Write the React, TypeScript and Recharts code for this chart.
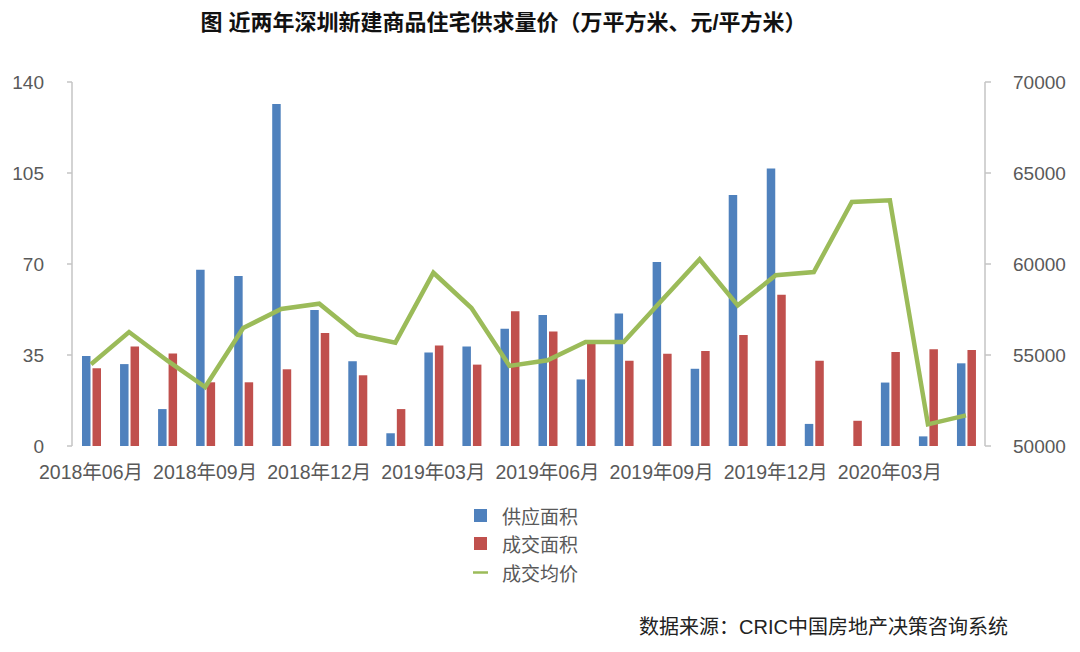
import React from 'react';
import { ComposedChart, Bar, Line, XAxis, YAxis, Legend } from 'recharts';

const months = [
  '2018年06月', '2018年07月', '2018年08月', '2018年09月', '2018年10月', '2018年11月',
  '2018年12月', '2019年01月', '2019年02月', '2019年03月', '2019年04月', '2019年05月',
  '2019年06月', '2019年07月', '2019年08月', '2019年09月', '2019年10月', '2019年11月',
  '2019年12月', '2020年01月', '2020年02月', '2020年03月', '2020年04月', '2020年05月',
];
const supplyArea = [34.6, 31.5, 14.2, 67.8, 65.4, 131.5, 52.3, 32.6, 4.9, 36.0, 38.3, 45.1,
  50.4, 25.6, 51.0, 70.8, 29.7, 96.5, 106.7, 8.5, 0, 24.4, 3.7, 31.8];
const dealArea = [29.9, 38.3, 35.6, 24.5, 24.5, 29.5, 43.5, 27.2, 14.2, 38.7, 31.3, 51.8,
  44.0, 39.4, 32.8, 35.5, 36.5, 42.7, 58.2, 32.8, 9.7, 36.2, 37.2, 36.9];
const avgPrice = [54490, 56260, 54700, 53240, 56480, 57530, 57820, 56120, 55680, 59520, 57580, 54400,
  54710, 55710, 55710, 58000, 60260, 57730, 59380, 59560, 63410, 63500, 51190, 51680];

const leftTicks = [0, 35, 70, 105, 140];
const rightTicks = [50000, 55000, 60000, 65000, 70000];
const boundaryTicks = months.map((_, i) => i).concat([months.length]);

const seriesNames = ['供应面积', '成交面积', '成交均价'];
const titleText = '图 近两年深圳新建商品住宅供求量价（万平方米、元/平方米）';
const sourceText = '数据来源：CRIC中国房地产决策咨询系统';

const data = months.map((m, i) => ({
  month: m,
  supply: supplyArea[i],
  deal: dealArea[i],
  price: avgPrice[i],
}));

const FONT = "'Liberation Sans', 'Noto Sans CJK SC', sans-serif";
const AXIS = '#c4c4c4';
const TEXT = '#595959';

const renderLegend = (props: any) => {
  const payload = [...(props.payload || [])].sort(
    (a: any, b: any) => seriesNames.indexOf(a.value) - seriesNames.indexOf(b.value)
  );
  return (
    <div style={{ fontFamily: FONT }}>
      {payload.map((entry: any, i: number) => (
        <div key={i} style={{ display: 'flex', alignItems: 'center', height: 28.5 }}>
          <svg width={15} height={15} style={{ marginRight: 14 }}>
            {entry.type === 'plainline' ? (
              <line x1={0} y1={7.5} x2={15} y2={7.5} stroke={entry.color} strokeWidth={2.5} />
            ) : (
              <rect x={1} y={1} width={13} height={13} fill={entry.color} />
            )}
          </svg>
          <span style={{ fontSize: 19, color: TEXT }}>{entry.value}</span>
        </div>
      ))}
    </div>
  );
};

export default function App() {
  return (
    <div style={{ position: 'absolute', left: 0, top: 0, width: 1080, height: 652, background: '#fff', fontFamily: FONT }}>
      <div style={{ position: 'absolute', left: 0, top: 10, width: 1007, textAlign: 'center', fontSize: 22, lineHeight: '26px', fontWeight: 'bold', color: '#111' }}>
        {titleText}
      </div>
      <ComposedChart
        width={1080}
        height={652}
        data={data}
        margin={{ top: 82, right: 0, left: 0, bottom: 176 }}
        barSize={8.5}
        barGap={2}
        style={{ fontFamily: FONT }}
      >
        <XAxis
          xAxisId="b"
          type="number"
          domain={[0, months.length]}
          ticks={boundaryTicks}
          allowDataOverflow
          height={0}
          tickSize={6}
          tickFormatter={() => ''}
          stroke={AXIS}
          tickLine={{ stroke: AXIS, strokeWidth: 1.5 }}
          axisLine={{ stroke: AXIS, strokeWidth: 1.5 }}
        />
        <XAxis
          xAxisId="cat"
          dataKey="month"
          interval={2}
          height={30}
          axisLine={false}
          tickLine={false}
          tickSize={0}
          tickMargin={19}
          tick={{ fontSize: 19.5, fill: TEXT }}
        />
        <YAxis
          yAxisId="left"
          domain={[0, 140]}
          ticks={leftTicks}
          width={72}
          tickSize={5}
          tickMargin={23}
          stroke={AXIS}
          tickLine={{ stroke: AXIS, strokeWidth: 1.5 }}
          axisLine={{ stroke: AXIS, strokeWidth: 1.5 }}
          tick={{ fontSize: 19, fill: TEXT }}
        />
        <YAxis
          yAxisId="right"
          orientation="right"
          domain={[50000, 70000]}
          ticks={rightTicks}
          width={95}
          tickSize={6}
          tickMargin={22}
          stroke={AXIS}
          tickLine={{ stroke: AXIS, strokeWidth: 1.5 }}
          axisLine={{ stroke: AXIS, strokeWidth: 1.5 }}
          tick={{ fontSize: 19, fill: TEXT, textAnchor: 'start' }}
        />
        <Bar xAxisId="cat" yAxisId="left" dataKey="supply" name={seriesNames[0]} fill="#4F81BD" legendType="square" isAnimationActive={false} />
        <Bar xAxisId="cat" yAxisId="left" dataKey="deal" name={seriesNames[1]} fill="#C0504D" legendType="square" isAnimationActive={false} />
        <Line xAxisId="cat" yAxisId="right" dataKey="price" name={seriesNames[2]} stroke="#9BBB59" strokeWidth={4.5} dot={false} activeDot={false} legendType="plainline" isAnimationActive={false} />
        <Legend
          layout="vertical"
          align="center"
          verticalAlign="middle"
          content={renderLegend}
          wrapperStyle={{ top: 501, left: 473, width: 200 }}
        />
      </ComposedChart>
      <div style={{ position: 'absolute', left: 0, top: 615, width: 1008, textAlign: 'right', fontSize: 20, lineHeight: '24px', color: '#222' }}>
        {sourceText}
      </div>
    </div>
  );
}
